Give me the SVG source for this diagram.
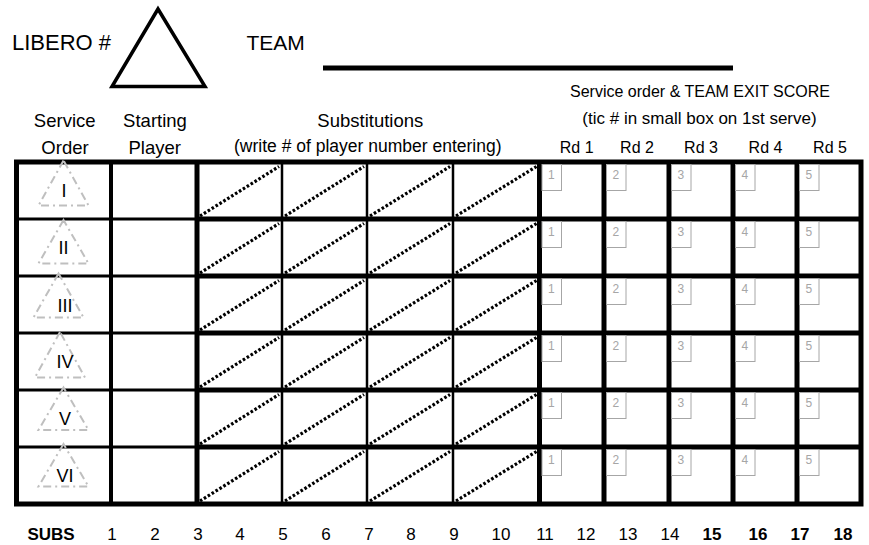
<svg xmlns="http://www.w3.org/2000/svg" xmlns:xlink="http://www.w3.org/1999/xlink" width="869" height="545" viewBox="0 0 869 545">
<style>
text{font-family:"Liberation Sans",Arial,sans-serif;fill:#000}
.h{font-size:18.5px;text-anchor:middle}
.s{font-size:17.5px;text-anchor:middle}
.so{font-size:16px;text-anchor:middle}
.rd{font-size:16px;text-anchor:middle}
.rn{font-size:18px;text-anchor:middle}
.sm{font-size:12px;fill:#a6a6a6}
.sb{font-size:17px;text-anchor:middle}
.b{font-weight:bold}
.thk{stroke:#000;stroke-width:5;fill:none}
.med{stroke:#000;stroke-width:3;fill:none}
.v4{stroke:#000;stroke-width:4;fill:none}
.thn{stroke:#000;stroke-width:2.5;fill:none}
.dot{stroke:#000;stroke-width:3.2;stroke-dasharray:2.6 2;fill:none}
.tri{fill:none;stroke:#bfbfbf;stroke-width:2;stroke-dasharray:8 4 2 4}
.box{fill:none;stroke:#a6a6a6;stroke-width:1}
</style>
<defs>
<g id="sb1"><rect class="box" x="0" y="0" width="19.5" height="26"/><text class="sm" x="6" y="14.5">1</text></g>
<g id="sb2"><rect class="box" x="0" y="0" width="19.5" height="26"/><text class="sm" x="6" y="14.5">2</text></g>
<g id="sb3"><rect class="box" x="0" y="0" width="19.5" height="26"/><text class="sm" x="6" y="14.5">3</text></g>
<g id="sb4"><rect class="box" x="0" y="0" width="19.5" height="26"/><text class="sm" x="6" y="14.5">4</text></g>
<g id="sb5"><rect class="box" x="0" y="0" width="19.5" height="26"/><text class="sm" x="6" y="14.5">5</text></g>
</defs>

<g id="header">
<text x="12" y="50" style="font-size:22px">LIBERO #</text>
<polygon points="158,9 112,86.5 205,86.5" fill="none" stroke="#000" stroke-width="3.5" stroke-linejoin="miter"/>
<text x="246.5" y="50" style="font-size:21px">TEAM</text>
<line x1="323" y1="68" x2="733" y2="68" stroke="#000" stroke-width="5"/>
</g>

<g id="column-headings">
<text class="h" x="64.7" y="127">Service</text>
<text class="h" x="65" y="154">Order</text>
<text class="h" x="155" y="127">Starting</text>
<text class="h" x="154.7" y="154">Player</text>
<text class="h" x="370.3" y="127">Substitutions</text>
<text class="s" x="367.8" y="152">(write # of player number entering)</text>
<text class="so" x="700" y="97">Service order &amp; TEAM EXIT SCORE</text>
<text class="so" x="699.5" y="124" style="font-size:17px">(tic # in small box on 1st serve)</text>
<text class="rd" x="576.7" y="153">Rd 1</text>
<text class="rd" x="637" y="153">Rd 2</text>
<text class="rd" x="701" y="153">Rd 3</text>
<text class="rd" x="765.5" y="153">Rd 4</text>
<text class="rd" x="830" y="153">Rd 5</text>
</g>

<g id="grid">
<path class="med" d="M16.5 219H197M16.5 276H197M16.5 333H197M16.5 390H197M16.5 447H197"/>
<path class="thk" d="M197 219H861M197 276H861M197 333H861M197 390H861M197 447H861"/>
<path class="thn" d="M282 162V504M367 162V504M453 162V504"/>
<path class="v4" d="M111 162V504"/>
<path class="thk" d="M197 162V504M539.5 162V504M604 162V504M669 162V504M733 162V504M797 162V504"/>
<rect class="thk" x="16.5" y="162" width="844.5" height="342"/>
</g>

<g id="substitution-slashes">
<path class="dot" d="M200 216L279 166.5M285 216L364 166.5M370 216L450 166.5M456 216L536.5 166.5
M200 273L279 223.5M285 273L364 223.5M370 273L450 223.5M456 273L536.5 223.5
M200 330L279 280.5M285 330L364 280.5M370 330L450 280.5M456 330L536.5 280.5
M200 387L279 337.5M285 387L364 337.5M370 387L450 337.5M456 387L536.5 337.5
M200 444L279 394.5M285 444L364 394.5M370 444L450 394.5M456 444L536.5 394.5
M200 501L279 451.5M285 501L364 451.5M370 501L450 451.5M456 501L536.5 451.5"/>
</g>

<g id="service-order">
<g id="so-1"><polygon class="tri" points="63.5,160.5 38.5,205.5 88.5,205.5"/><text class="rn" x="64" y="197">I</text></g>
<g id="so-2"><polygon class="tri" points="63.5,220 38.5,263.5 88.5,263.5"/><text class="rn" x="63.5" y="254">II</text></g>
<g id="so-3"><polygon class="tri" points="58.5,273.5 33.5,317.5 83.5,317.5"/><text class="rn" x="65" y="311.5">III</text></g>
<g id="so-4"><polygon class="tri" points="60,332 35,377.5 85,377.5"/><text class="rn" x="65" y="368">IV</text></g>
<g id="so-5"><polygon class="tri" points="63.5,387.5 38.5,430 88.5,430"/><text class="rn" x="65" y="425">V</text></g>
<g id="so-6"><polygon class="tri" points="63.5,444 38.5,486.5 88.5,486.5"/><text class="rn" x="65" y="481.5">VI</text></g>
</g>

<g id="round-boxes">
<use xlink:href="#sb1" x="542" y="164.5"/><use xlink:href="#sb2" x="606.5" y="164.5"/><use xlink:href="#sb3" x="671.5" y="164.5"/><use xlink:href="#sb4" x="735.5" y="164.5"/><use xlink:href="#sb5" x="799.5" y="164.5"/>
<use xlink:href="#sb1" x="542" y="221.5"/><use xlink:href="#sb2" x="606.5" y="221.5"/><use xlink:href="#sb3" x="671.5" y="221.5"/><use xlink:href="#sb4" x="735.5" y="221.5"/><use xlink:href="#sb5" x="799.5" y="221.5"/>
<use xlink:href="#sb1" x="542" y="278.5"/><use xlink:href="#sb2" x="606.5" y="278.5"/><use xlink:href="#sb3" x="671.5" y="278.5"/><use xlink:href="#sb4" x="735.5" y="278.5"/><use xlink:href="#sb5" x="799.5" y="278.5"/>
<use xlink:href="#sb1" x="542" y="335.5"/><use xlink:href="#sb2" x="606.5" y="335.5"/><use xlink:href="#sb3" x="671.5" y="335.5"/><use xlink:href="#sb4" x="735.5" y="335.5"/><use xlink:href="#sb5" x="799.5" y="335.5"/>
<use xlink:href="#sb1" x="542" y="392.5"/><use xlink:href="#sb2" x="606.5" y="392.5"/><use xlink:href="#sb3" x="671.5" y="392.5"/><use xlink:href="#sb4" x="735.5" y="392.5"/><use xlink:href="#sb5" x="799.5" y="392.5"/>
<use xlink:href="#sb1" x="542" y="449.5"/><use xlink:href="#sb2" x="606.5" y="449.5"/><use xlink:href="#sb3" x="671.5" y="449.5"/><use xlink:href="#sb4" x="735.5" y="449.5"/><use xlink:href="#sb5" x="799.5" y="449.5"/>
</g>

<g id="subs-row">
<text class="sb b" x="51" y="540">SUBS</text>
<text class="sb" x="112" y="540">1</text>
<text class="sb" x="155" y="540">2</text>
<text class="sb" x="198" y="540">3</text>
<text class="sb" x="240" y="540">4</text>
<text class="sb" x="283" y="540">5</text>
<text class="sb" x="326" y="540">6</text>
<text class="sb" x="369" y="540">7</text>
<text class="sb" x="411" y="540">8</text>
<text class="sb" x="454" y="540">9</text>
<text class="sb" x="501" y="540">10</text>
<text class="sb" x="545" y="540">11</text>
<text class="sb" x="586" y="540">12</text>
<text class="sb" x="628" y="540">13</text>
<text class="sb" x="670" y="540">14</text>
<text class="sb b" x="712" y="540">15</text>
<text class="sb b" x="758" y="540">16</text>
<text class="sb b" x="800" y="540">17</text>
<text class="sb b" x="843" y="540">18</text>
</g>
</svg>
